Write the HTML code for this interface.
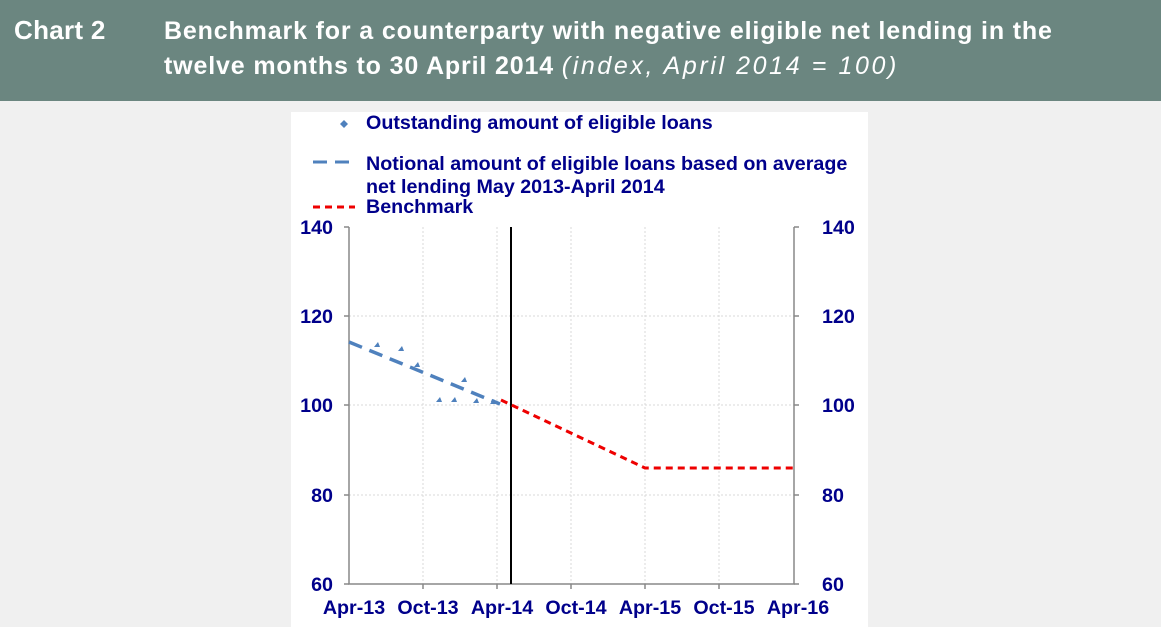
<!DOCTYPE html><html><head><style>
body{margin:0;width:1161px;height:627px;background:#f0f0f0;overflow:hidden;font-family:"Liberation Sans",sans-serif}
.hd{position:absolute;left:0;top:0;width:1161px;height:101px;background:#6b8680;color:#fff;font-family:"Liberation Sans",sans-serif;font-weight:bold;font-size:25px}
</style></head><body>
<div class="hd">
<div style="position:absolute;left:14px;top:15px;font-size:26px;letter-spacing:0.3px">Chart 2</div>
<div style="position:absolute;left:164px;top:14px;line-height:35px;letter-spacing:0.85px">Benchmark for a counterparty with negative eligible net lending in the<br>twelve months to 30 April 2014 <span style="font-style:italic;font-weight:normal;letter-spacing:2.6px">(index, April 2014 = 100)</span></div>
</div>
<svg style="position:absolute;left:0;top:0" width="1161" height="627">
<rect x="291" y="112" width="577" height="515" fill="#fff"/>
<g font-family="Liberation Sans" font-weight="bold" font-size="19.7" fill="#00008b">
<text x="366" y="129">Outstanding amount of eligible loans</text>
<text x="366" y="170">Notional amount of eligible loans based on average</text>
<text x="366" y="193">net lending May 2013-April 2014</text>
<text x="366" y="213">Benchmark</text>
<g text-anchor="end"><text x="333" y="234">140</text><text x="333" y="323">120</text><text x="333" y="412">100</text><text x="333" y="502">80</text><text x="333" y="591">60</text></g>
<g text-anchor="start"><text x="822" y="234">140</text><text x="822" y="323">120</text><text x="822" y="412">100</text><text x="822" y="502">80</text><text x="822" y="591">60</text></g>
<g text-anchor="middle"><text x="354" y="614">Apr-13</text><text x="428" y="614">Oct-13</text><text x="502" y="614">Apr-14</text><text x="576" y="614">Oct-14</text><text x="650" y="614">Apr-15</text><text x="724" y="614">Oct-15</text><text x="798" y="614">Apr-16</text></g>
</g>
<path d="M340 124l4 -4 4 4 -4 4z" fill="#4f81bd"/>
<line x1="313" y1="162" x2="355" y2="162" stroke="#4f81bd" stroke-width="3" stroke-dasharray="14,8"/>
<line x1="313" y1="207" x2="355" y2="207" stroke="#e00" stroke-width="3" stroke-dasharray="7,5"/>
<g stroke="#d9d9d9" stroke-dasharray="2,2">
<line x1="349" y1="316" x2="794" y2="316"/><line x1="349" y1="405" x2="794" y2="405"/><line x1="349" y1="495" x2="794" y2="495"/>
<line x1="423" y1="227" x2="423" y2="584"/><line x1="497" y1="227" x2="497" y2="584"/><line x1="571" y1="227" x2="571" y2="584"/><line x1="645" y1="227" x2="645" y2="584"/><line x1="719" y1="227" x2="719" y2="584"/>
</g>
<g stroke="#888" stroke-width="1.5" fill="none">
<path d="M349 227V584H794V227"/>
<path d="M349 227h-5M349 316h-5M349 405h-5M349 495h-5M349 584h-5M794 227h5M794 316h5M794 405h5M794 495h5M794 584h5M423 584v5M497 584v5M571 584v5M645 584v5M719 584v5"/>
</g>
<line x1="511" y1="227" x2="511" y2="584" stroke="#000" stroke-width="2"/>
<line x1="349" y1="342" x2="500" y2="404" stroke="#4f81bd" stroke-width="3.5" stroke-dasharray="14,8"/>
<g fill="#4f81bd">
<path d="M374 347l4-5 2 5z"/><path d="M398 351l4-5 2 5z"/><path d="M414 367l4-5 2 5z"/><path d="M436 402l4-5 2 5z"/><path d="M451 402l4-5 2 5z"/><path d="M461 382l4-5 2 5z"/><path d="M473 403l4-5 2 5z"/><path d="M490 404l4-5 2 5z"/>
</g>
<polyline points="501,400 645,468 794,468" fill="none" stroke="#e00" stroke-width="3" stroke-dasharray="7,5"/>
</svg>
</body></html>
